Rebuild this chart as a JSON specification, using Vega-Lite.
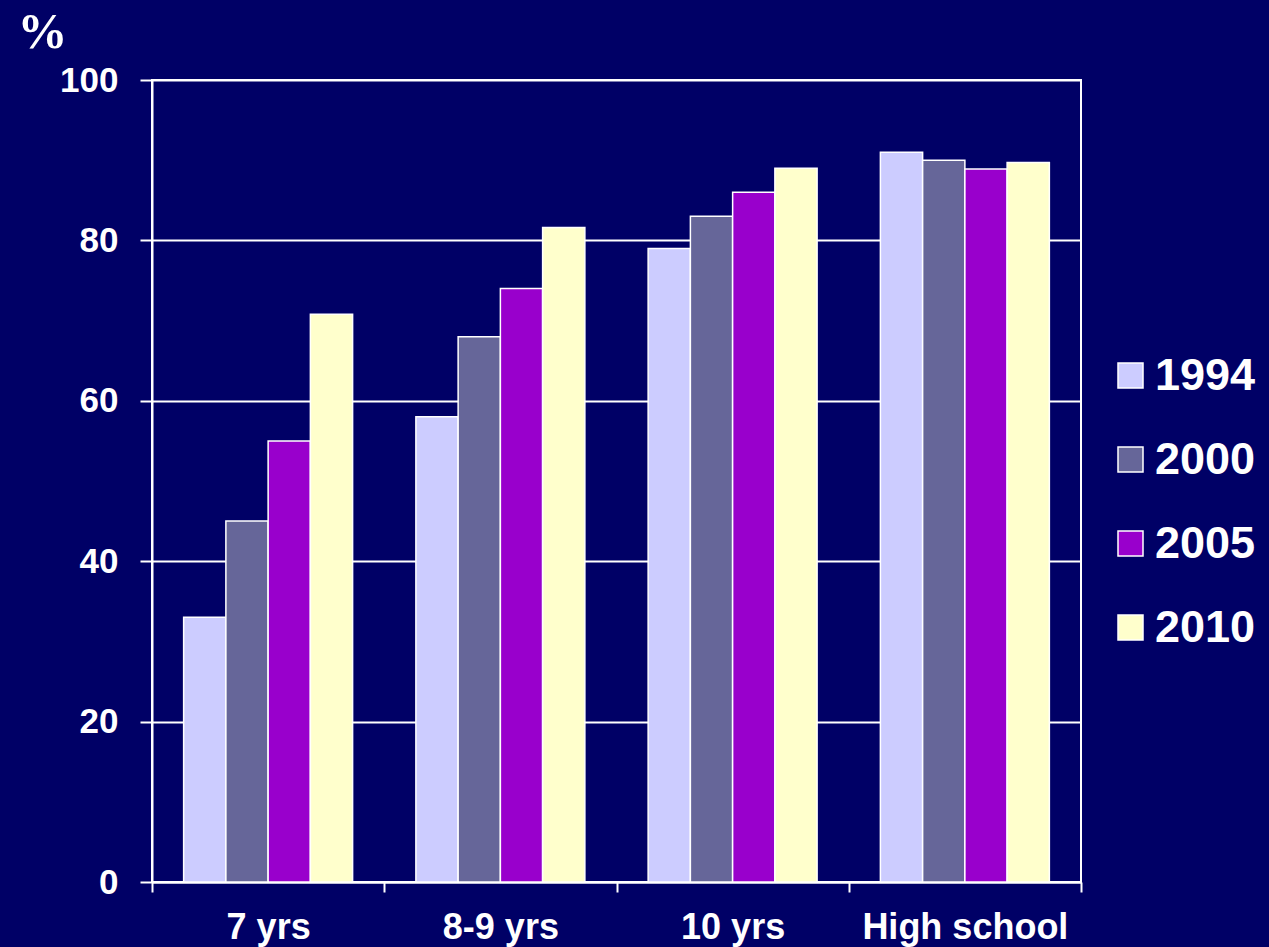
{
  "$schema": "https://vega.github.io/schema/vega-lite/v6.json",
  "width": 929,
  "height": 802,
  "autosize": {"type": "none"},
  "padding": {"left": 152, "top": 80, "right": 188, "bottom": 65},
  "background": "#000066",
  "config": {
    "view": {"fill": "#000066", "stroke": "#ffffff", "strokeWidth": 2},
    "font": "Liberation Sans"
  },
  "data": {
    "values": [
      {"group": "7 yrs", "year": "1994", "pct": 33},
      {"group": "7 yrs", "year": "2000", "pct": 45},
      {"group": "7 yrs", "year": "2005", "pct": 55},
      {"group": "7 yrs", "year": "2010", "pct": 70.8},
      {"group": "8-9 yrs", "year": "1994", "pct": 58},
      {"group": "8-9 yrs", "year": "2000", "pct": 68},
      {"group": "8-9 yrs", "year": "2005", "pct": 74},
      {"group": "8-9 yrs", "year": "2010", "pct": 81.6},
      {"group": "10 yrs", "year": "1994", "pct": 79},
      {"group": "10 yrs", "year": "2000", "pct": 83},
      {"group": "10 yrs", "year": "2005", "pct": 86},
      {"group": "10 yrs", "year": "2010", "pct": 89},
      {"group": "High school", "year": "1994", "pct": 91},
      {"group": "High school", "year": "2000", "pct": 90},
      {"group": "High school", "year": "2005", "pct": 88.9},
      {"group": "High school", "year": "2010", "pct": 89.7}
    ]
  },
  "mark": {"type": "bar", "stroke": "#ffffff", "strokeWidth": 1.5},
  "encoding": {
    "x": {
      "field": "group",
      "type": "nominal",
      "sort": ["7 yrs", "8-9 yrs", "10 yrs", "High school"],
      "scale": {"paddingInner": 0, "paddingOuter": 0},
      "axis": {
        "title": null,
        "labelAngle": 0,
        "labelFont": "Liberation Sans",
        "labelFontWeight": "bold",
        "labelFontSize": 36,
        "labelColor": "#ffffff",
        "labelPadding": 18,
        "labelLimit": 400,
        "domainColor": "#ffffff",
        "domainWidth": 2,
        "tickColor": "#ffffff",
        "tickWidth": 2,
        "tickSize": 10,
        "tickBand": "extent"
      }
    },
    "xOffset": {
      "field": "year",
      "type": "nominal",
      "scale": {"paddingInner": 0, "paddingOuter": 0.749}
    },
    "y": {
      "field": "pct",
      "type": "quantitative",
      "scale": {"domain": [0, 100], "nice": false},
      "axis": {
        "title": "%",
        "titleAngle": 0,
        "titleFont": "Liberation Serif",
        "titleFontWeight": "bold",
        "titleFontSize": 50,
        "titleColor": "#ffffff",
        "titleAlign": "center",
        "titleBaseline": "middle",
        "titleX": -110,
        "titleY": -48,
        "values": [0, 20, 40, 60, 80, 100],
        "labelFont": "Liberation Sans",
        "labelFontWeight": "bold",
        "labelFontSize": 35,
        "labelColor": "#ffffff",
        "labelPadding": 22,
        "domainColor": "#ffffff",
        "domainWidth": 2,
        "tickColor": "#ffffff",
        "tickWidth": 2,
        "tickSize": 12,
        "grid": true,
        "gridColor": "#ffffff",
        "gridWidth": 2
      }
    },
    "color": {
      "field": "year",
      "type": "nominal",
      "scale": {
        "domain": ["1994", "2000", "2005", "2010"],
        "range": ["#ccccff", "#666699", "#9900cc", "#ffffcc"]
      },
      "legend": {
        "title": null,
        "orient": "none",
        "legendX": 956,
        "legendY": 273,
        "symbolType": "square",
        "symbolSize": 625,
        "symbolStrokeColor": "#ffffff",
        "symbolStrokeWidth": 1.5,
        "symbolOpacity": 1,
        "labelFont": "Liberation Sans",
        "labelFontWeight": "bold",
        "labelFontSize": 45,
        "labelColor": "#ffffff",
        "labelOffset": 2,
        "labelLimit": 300,
        "rowPadding": 38
      }
    }
  }
}
